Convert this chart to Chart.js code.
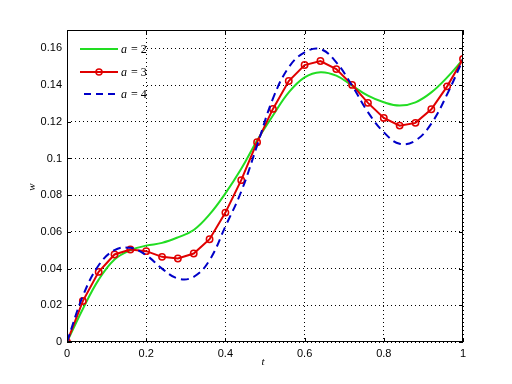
<!DOCTYPE html>
<html><head><meta charset="utf-8">
<script src="https://cdn.jsdelivr.net/npm/chart.js@4/dist/chart.umd.min.js"></script>
<style>html,body{margin:0;padding:0;background:#fff;}#wrap{width:512px;height:384px;}</style>
</head><body><div id="wrap"><canvas id="c" width="512" height="384"></canvas></div>
<script>
const tValues = [0,0.04,0.08,0.12,0.16,0.20,0.24,0.28,0.32,0.36,0.40,0.44,0.48,0.52,0.56,0.60,0.64,0.68,0.72,0.76,0.80,0.84,0.88,0.92,0.96,1.00];
const wA2 = [0,0.018,0.034,0.045,0.050,0.0525,0.054,0.057,0.061,0.0695,0.081,0.0944,0.1098,0.1234,0.136,0.1442,0.147,0.1451,0.1397,0.1342,0.1306,0.1288,0.1306,0.136,0.1442,0.154];
const wA3 = [0,0.0223,0.0382,0.0477,0.0504,0.0495,0.0464,0.0455,0.0482,0.056,0.0705,0.0882,0.1089,0.127,0.1422,0.1509,0.1531,0.1487,0.1401,0.1303,0.1221,0.1179,0.1194,0.1268,0.1393,0.1542];
const wA4 = [0,0.025,0.0418,0.050,0.0513,0.0473,0.040,0.0346,0.0355,0.0446,0.063,0.082,0.107,0.1326,0.1497,0.1578,0.1596,0.1524,0.1397,0.1252,0.1143,0.108,0.1098,0.119,0.135,0.154];
const seriesNames = ['2','3','4'];
const xTicks = [0,0.2,0.4,0.6,0.8,1];
const yTicks = [0,0.02,0.04,0.06,0.08,0.1,0.12,0.14,0.16];

const GREEN='#22dd22', RED='#e00000', BLUE='#0000c8';
const pts = arr => tValues.map((t,i)=>({x:t,y:arr[i]}));
const FONT = '"Liberation Sans", Arial, sans-serif';

const boxPlugin = {
  id:'box',
  afterDraw(chart){
    const {ctx, chartArea:a, scales:{x,y}} = chart;
    ctx.save();
    // frame
    ctx.strokeStyle='#000'; ctx.lineWidth=1; ctx.setLineDash([]);
    ctx.strokeRect(Math.round(a.left)+0.5, Math.round(a.top)+0.5, Math.round(a.right-a.left)-1, Math.round(a.bottom-a.top)-1);
    // ticks inward
    ctx.beginPath();
    xTicks.forEach(v=>{const px=Math.round(x.getPixelForValue(v))+0.5;
      ctx.moveTo(px,a.bottom); ctx.lineTo(px,a.bottom-4);
      ctx.moveTo(px,a.top); ctx.lineTo(px,a.top+4);});
    yTicks.forEach(v=>{const py=Math.round(y.getPixelForValue(v))+0.5;
      ctx.moveTo(a.left,py); ctx.lineTo(a.left+4,py);
      ctx.moveTo(a.right,py); ctx.lineTo(a.right-4,py);});
    ctx.stroke();
    // legend
    ctx.fillStyle='#fff';
    ctx.fillRect(a.left+1, a.top+5, 72, 70);
    const items=[{c:GREEN,dash:[],m:false,yy:49},{c:RED,dash:[],m:true,yy:72},{c:BLUE,dash:[7,5],m:false,yy:94}];
    items.forEach((it,i)=>{
      ctx.strokeStyle=it.c; ctx.lineWidth=2; ctx.setLineDash(it.dash);
      ctx.beginPath(); ctx.moveTo(i===2?84:80,it.yy); ctx.lineTo(118,it.yy); ctx.stroke();
      ctx.setLineDash([]);
      if(it.m){ctx.lineWidth=1.5; ctx.beginPath(); ctx.arc(99,it.yy,3,0,Math.PI*2); ctx.stroke();}
      ctx.fillStyle='#000'; ctx.textBaseline='middle'; ctx.textAlign='left';
      ctx.font='italic 12px "Liberation Serif", serif';
      ctx.fillText('a',121,it.yy+1);
      ctx.font='12px "Liberation Serif", serif';
      ctx.fillText('= '+seriesNames[i],131,it.yy+1);
    });
    // axis titles
    ctx.fillStyle='#000';
    ctx.font='italic 11px "Liberation Serif", serif';
    ctx.textAlign='center'; ctx.textBaseline='middle';
    ctx.fillText('t',263,362);
    ctx.save(); ctx.translate(32,187); ctx.rotate(-Math.PI/2); ctx.fillText('w',0,0); ctx.restore();
    ctx.restore();
  }
};

new Chart(document.getElementById('c'),{
  type:'line',
  data:{datasets:[
    {label:'a = 2',data:pts(wA2),borderColor:GREEN,borderWidth:2,pointRadius:0,tension:0.4,order:3},
    {label:'a = 3',data:pts(wA3),borderColor:RED,borderWidth:2,pointRadius:3.2,pointBorderWidth:1.5,pointBorderColor:RED,pointBackgroundColor:'rgba(255,255,255,0)',tension:0,order:2},
    {label:'a = 4',data:pts(wA4),borderColor:BLUE,borderWidth:2,borderDash:[8,5],pointRadius:0,tension:0.4,order:1}
  ]},
  options:{
    responsive:false, animation:false,
    layout:{padding:{top:30,right:49,left:0,bottom:0}},
    plugins:{legend:{display:false},tooltip:{enabled:false}},
    scales:{
      x:{type:'linear',min:0,max:1,
        afterFit(s){s.height=42;},
        afterBuildTicks(s){s.ticks=xTicks.map(v=>({value:v}));},
        ticks:{padding:5,maxRotation:0,color:'#000',font:{family:FONT,size:11},callback:v=>String(Math.round(v*10)/10)},
        grid:{color:'#000',lineWidth:1,drawTicks:false},
        border:{display:false,dash:[1,3]}},
      y:{type:'linear',min:0,max:0.17,
        afterFit(s){s.width=67;},
        afterBuildTicks(s){s.ticks=yTicks.map(v=>({value:v}));},
        ticks:{padding:5,color:'#000',font:{family:FONT,size:11},callback:v=>String(Math.round(v*100)/100)},
        grid:{color:'#000',lineWidth:1,drawTicks:false},
        border:{display:false,dash:[1,3]}}
    }
  },
  plugins:[boxPlugin]
});
</script></body></html>
